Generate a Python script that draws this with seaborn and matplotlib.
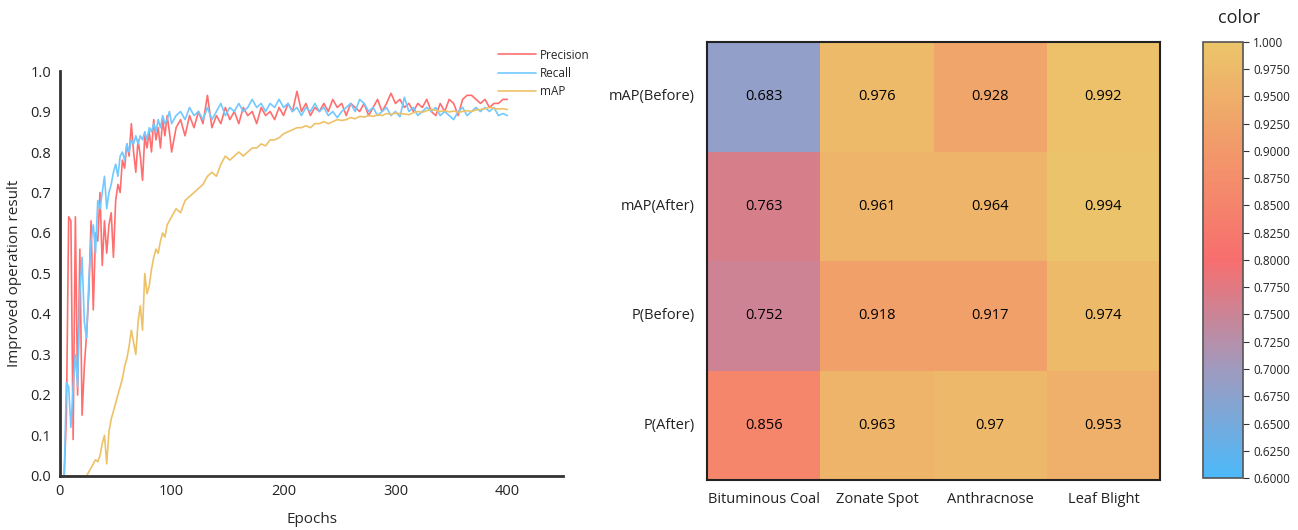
import numpy as np
import pandas as pd
import matplotlib
matplotlib.use("Agg")
import matplotlib.pyplot as plt
import seaborn as sns
from matplotlib.colors import LinearSegmentedColormap

# ============================================================
# DATA
# ============================================================

epochs = list(range(0, 100, 2)) + list(range(100, 401, 4))

precision = [
    0.0, 0.0, 0.0, 0.15, 0.64, 0.63, 0.09, 0.64, 0.20, 0.56,
    0.15, 0.27, 0.35, 0.45, 0.63, 0.41, 0.60, 0.58, 0.70, 0.52,
    0.63, 0.55, 0.62, 0.65, 0.54, 0.68, 0.72, 0.70, 0.78, 0.76,
    0.82, 0.79, 0.87, 0.80, 0.75, 0.83, 0.79, 0.73, 0.84, 0.81,
    0.85, 0.80, 0.88, 0.83, 0.86, 0.81, 0.88, 0.84, 0.89, 0.85,
    0.80, 0.86, 0.88, 0.84, 0.89, 0.86, 0.90, 0.87, 0.94, 0.86,
    0.89, 0.87, 0.91, 0.88, 0.90, 0.87, 0.91, 0.89, 0.90, 0.87,
    0.91, 0.89, 0.90, 0.88, 0.91, 0.89, 0.92, 0.90, 0.95, 0.90,
    0.92, 0.89, 0.91, 0.90, 0.92, 0.90, 0.93, 0.91, 0.92, 0.89,
    0.92, 0.91, 0.90, 0.92, 0.89, 0.91, 0.93, 0.90, 0.92, 0.945,
    0.92, 0.93, 0.91, 0.92, 0.90, 0.92, 0.91, 0.93, 0.90, 0.89,
    0.92, 0.90, 0.93, 0.92, 0.89, 0.93, 0.94, 0.94, 0.93, 0.92,
    0.93, 0.91, 0.92, 0.92, 0.93, 0.93,
]

recall = [
    0.0, 0.0, 0.0, 0.23, 0.22, 0.12, 0.22, 0.30, 0.22, 0.45,
    0.54, 0.38, 0.34, 0.48, 0.58, 0.62, 0.55, 0.68, 0.66, 0.70,
    0.74, 0.66, 0.70, 0.72, 0.75, 0.77, 0.74, 0.79, 0.80, 0.78,
    0.82, 0.80, 0.83, 0.82, 0.84, 0.82, 0.84, 0.83, 0.85, 0.83,
    0.86, 0.85, 0.87, 0.85, 0.88, 0.86, 0.89, 0.87, 0.88, 0.90,
    0.87, 0.89, 0.90, 0.88, 0.91, 0.89, 0.90, 0.88, 0.91, 0.88,
    0.90, 0.92, 0.89, 0.91, 0.90, 0.92, 0.90, 0.91, 0.93, 0.91,
    0.92, 0.90, 0.92, 0.91, 0.93, 0.91, 0.92, 0.90, 0.91, 0.89,
    0.91, 0.90, 0.92, 0.90, 0.91, 0.89, 0.90, 0.885, 0.90, 0.91,
    0.92, 0.90, 0.93, 0.92, 0.90, 0.91, 0.89, 0.90, 0.91, 0.89,
    0.90, 0.887, 0.935, 0.90, 0.91, 0.89, 0.90, 0.91, 0.90, 0.91,
    0.89, 0.90, 0.89, 0.88, 0.90, 0.91, 0.89, 0.90, 0.91, 0.90,
    0.91, 0.90, 0.91, 0.89, 0.895, 0.89,
]

map_values = [
    0.0, 0.0, 0.0, 0.0, 0.0, 0.0, 0.0, 0.0, 0.0, 0.0,
    0.0, 0.0, 0.0, 0.01, 0.02, 0.03, 0.04, 0.035, 0.05, 0.08,
    0.10, 0.03, 0.11, 0.14, 0.16, 0.18, 0.20, 0.22, 0.24, 0.27,
    0.29, 0.32, 0.36, 0.33, 0.30, 0.38, 0.42, 0.36, 0.50, 0.45,
    0.47, 0.51, 0.54, 0.56, 0.55, 0.58, 0.60, 0.59, 0.62, 0.63,
    0.64, 0.66, 0.65, 0.68, 0.69, 0.70, 0.71, 0.72, 0.74, 0.75,
    0.74, 0.77, 0.79, 0.78, 0.79, 0.80, 0.79, 0.80, 0.81, 0.81,
    0.82, 0.815, 0.83, 0.83, 0.835, 0.845, 0.85, 0.855, 0.86, 0.86,
    0.865, 0.86, 0.87, 0.87, 0.875, 0.87, 0.875, 0.88, 0.878, 0.88,
    0.885, 0.882, 0.888, 0.886, 0.89, 0.888, 0.892, 0.89, 0.895, 0.893,
    0.896, 0.895, 0.894, 0.892, 0.897, 0.9, 0.898, 0.902, 0.905, 0.903,
    0.9, 0.902, 0.899, 0.901, 0.898, 0.9, 0.902, 0.9, 0.904, 0.905,
    0.907, 0.91, 0.908, 0.906, 0.907, 0.905,
]

row_labels = ["mAP(Before)", "mAP(After)", "P(Before)", "P(After)"]
col_labels = ["Bituminous Coal", "Zonate Spot", "Anthracnose", "Leaf Blight"]

map_before = [0.683, 0.976, 0.928, 0.992]
map_after = [0.763, 0.961, 0.964, 0.994]
p_before = [0.752, 0.918, 0.917, 0.974]
p_after = [0.856, 0.963, 0.97, 0.953]

cbar_ticks = [0.6, 0.625, 0.65, 0.675, 0.7, 0.725, 0.75, 0.775, 0.8,
              0.825, 0.85, 0.875, 0.9, 0.925, 0.95, 0.975, 1.0]

# ============================================================
# STYLE
# ============================================================

sns.set_style("white")
plt.rcParams["font.family"] = ["Open Sans", "DejaVu Sans"]

line_colors = {"Precision": "#FF6F6F", "Recall": "#72C8FF", "mAP": "#EDC167"}

# ============================================================
# FIGURE
# ============================================================

fig = plt.figure(figsize=(12.98, 5.30), dpi=100)

ax1 = fig.add_axes([0.046, 0.102, 0.388, 0.764])
ax2 = fig.add_axes([0.5447, 0.0943, 0.349, 0.826])
cax = fig.add_axes([0.9268, 0.098, 0.0308, 0.823])

# ============================================================
# LINE PLOT
# ============================================================

df_lines = pd.DataFrame({
    "Epochs": epochs * 3,
    "value": precision + recall + map_values,
    "metric": ["Precision"] * len(epochs) + ["Recall"] * len(epochs) + ["mAP"] * len(epochs),
})

sns.lineplot(
    data=df_lines,
    x="Epochs",
    y="value",
    hue="metric",
    palette=line_colors,
    linewidth=1.2,
    ax=ax1
)

ax1.set_xlim(0, 450)
ax1.set_ylim(0, 1.0)
ax1.set_xticks([0, 100, 200, 300, 400])
ax1.set_yticks(np.arange(0, 1.01, 0.1))
ax1.set_yticklabels([f"{v:.1f}" for v in np.arange(0, 1.01, 0.1)])
ax1.tick_params(length=0, labelsize=10.5, colors="#222222", pad=6)

ax1.set_xlabel("Epochs", fontsize=11, labelpad=9)
ax1.set_ylabel("Improved operation result", fontsize=11, labelpad=6)

for side in ["top", "right"]:
    ax1.spines[side].set_visible(False)
for side in ["left", "bottom"]:
    ax1.spines[side].set_color("#333333")
    ax1.spines[side].set_linewidth(2)

ax1.legend(
    loc="upper right",
    bbox_to_anchor=(600 / 1298, 1 - 38 / 530),
    bbox_transform=fig.transFigure,
    frameon=False,
    fontsize=8.5,
    handlelength=3.2,
    handletextpad=0.3,
    labelspacing=0.45,
    title=None
)

# ============================================================
# HEATMAP
# ============================================================

heat_df = pd.DataFrame(
    [map_before, map_after, p_before, p_after],
    index=row_labels,
    columns=col_labels
)

cmap = LinearSegmentedColormap.from_list(
    "custom",
    [
        (0.0, "#4CBAFA"),
        (0.25, "#A09ABE"),
        (0.5, "#F76E6E"),
        (0.625, "#F5846C"),
        (0.75, "#F2986A"),
        (1.0, "#EBC56A"),
    ]
)

sns.heatmap(
    heat_df,
    ax=ax2,
    cmap=cmap,
    vmin=0.6,
    vmax=1.0,
    annot=True,
    fmt="g",
    annot_kws={"color": "black", "fontsize": 10.5},
    cbar_ax=cax,
    cbar_kws={"ticks": cbar_ticks}
)

for side in ax2.spines.values():
    side.set_visible(True)
    side.set_color("#222222")
    side.set_linewidth(1.5)

ax2.tick_params(axis="both", length=5, width=1.5, color="#222222",
                labelsize=10.5, labelcolor="#222222")
ax2.tick_params(axis="y", rotation=0)
ax2.tick_params(axis="x", rotation=0)
ax2.set_xlabel("")
ax2.set_ylabel("")

# ============================================================
# COLORBAR
# ============================================================

cbar = ax2.collections[0].colorbar
cbar.outline.set_edgecolor("#555555")
cbar.outline.set_linewidth(1.2)
cbar.ax.set_yticklabels(["1.000" if t == 1.0 else f"{t:.4f}" for t in cbar_ticks])
cbar.ax.tick_params(labelsize=8.5, length=4, color="#333333", labelcolor="#222222")
cbar.ax.text(0.9, 1.055, "color", transform=cbar.ax.transAxes,
             ha="center", va="center", fontsize=13, color="#222222")

fig.savefig("out.png", dpi=100)
